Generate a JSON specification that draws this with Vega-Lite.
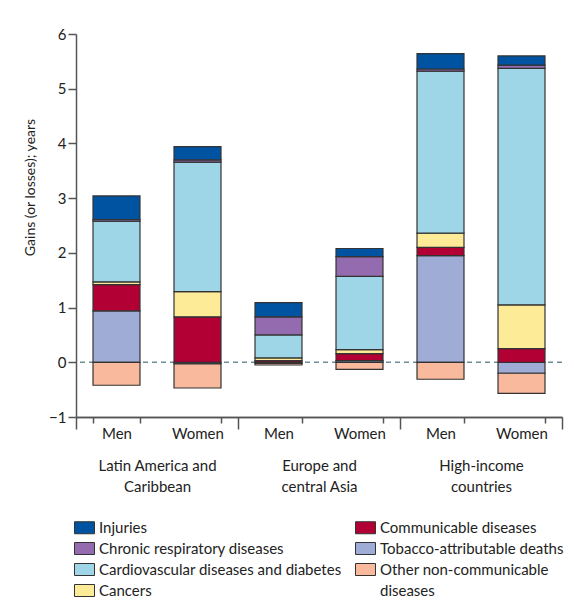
{
  "$schema": "https://vega.github.io/schema/vega-lite/v6.json",
  "width": 486,
  "height": 383,
  "autosize": {"type": "none"},
  "padding": {"left": 76, "top": 34, "right": 12, "bottom": 190},
  "background": "white",
  "config": {
    "font": "Lato",
    "view": {"stroke": null},
    "axis": {"labelFont": "Lato", "titleFont": "Lato", "labelColor": "#222", "titleColor": "#222", "grid": false}
  },
  "datasets": {
    "bars": [
      {"bar": "LAC|Men", "cause": "Tobacco-attributable deaths", "k": 1, "value": 0.94},
      {"bar": "LAC|Men", "cause": "Communicable diseases", "k": 2, "value": 0.48},
      {"bar": "LAC|Men", "cause": "Cancers", "k": 3, "value": 0.05},
      {"bar": "LAC|Men", "cause": "Cardiovascular diseases and diabetes", "k": 4, "value": 1.11},
      {"bar": "LAC|Men", "cause": "Chronic respiratory diseases", "k": 5, "value": 0.03},
      {"bar": "LAC|Men", "cause": "Injuries", "k": 6, "value": 0.43},
      {"bar": "LAC|Men", "cause": "Other non-communicable diseases", "k": 7, "value": -0.42},
      {"bar": "LAC|Women", "cause": "Tobacco-attributable deaths", "k": 1, "value": -0.03},
      {"bar": "LAC|Women", "cause": "Communicable diseases", "k": 2, "value": 0.83},
      {"bar": "LAC|Women", "cause": "Cancers", "k": 3, "value": 0.46},
      {"bar": "LAC|Women", "cause": "Cardiovascular diseases and diabetes", "k": 4, "value": 2.37},
      {"bar": "LAC|Women", "cause": "Chronic respiratory diseases", "k": 5, "value": 0.04},
      {"bar": "LAC|Women", "cause": "Injuries", "k": 6, "value": 0.24},
      {"bar": "LAC|Women", "cause": "Other non-communicable diseases", "k": 7, "value": -0.44},
      {"bar": "ECA|Men", "cause": "Tobacco-attributable deaths", "k": 1, "value": -0.02},
      {"bar": "ECA|Men", "cause": "Communicable diseases", "k": 2, "value": 0.03},
      {"bar": "ECA|Men", "cause": "Cancers", "k": 3, "value": 0.05},
      {"bar": "ECA|Men", "cause": "Cardiovascular diseases and diabetes", "k": 4, "value": 0.42},
      {"bar": "ECA|Men", "cause": "Chronic respiratory diseases", "k": 5, "value": 0.33},
      {"bar": "ECA|Men", "cause": "Injuries", "k": 6, "value": 0.26},
      {"bar": "ECA|Men", "cause": "Other non-communicable diseases", "k": 7, "value": -0.03},
      {"bar": "ECA|Women", "cause": "Tobacco-attributable deaths", "k": 1, "value": 0.03},
      {"bar": "ECA|Women", "cause": "Communicable diseases", "k": 2, "value": 0.13},
      {"bar": "ECA|Women", "cause": "Cancers", "k": 3, "value": 0.07},
      {"bar": "ECA|Women", "cause": "Cardiovascular diseases and diabetes", "k": 4, "value": 1.34},
      {"bar": "ECA|Women", "cause": "Chronic respiratory diseases", "k": 5, "value": 0.36},
      {"bar": "ECA|Women", "cause": "Injuries", "k": 6, "value": 0.15},
      {"bar": "ECA|Women", "cause": "Other non-communicable diseases", "k": 7, "value": -0.13},
      {"bar": "HI|Men", "cause": "Tobacco-attributable deaths", "k": 1, "value": 1.95},
      {"bar": "HI|Men", "cause": "Communicable diseases", "k": 2, "value": 0.15},
      {"bar": "HI|Men", "cause": "Cancers", "k": 3, "value": 0.26},
      {"bar": "HI|Men", "cause": "Cardiovascular diseases and diabetes", "k": 4, "value": 2.96},
      {"bar": "HI|Men", "cause": "Chronic respiratory diseases", "k": 5, "value": 0.04},
      {"bar": "HI|Men", "cause": "Injuries", "k": 6, "value": 0.28},
      {"bar": "HI|Men", "cause": "Other non-communicable diseases", "k": 7, "value": -0.31},
      {"bar": "HI|Women", "cause": "Tobacco-attributable deaths", "k": 1, "value": -0.20},
      {"bar": "HI|Women", "cause": "Communicable diseases", "k": 2, "value": 0.25},
      {"bar": "HI|Women", "cause": "Cancers", "k": 3, "value": 0.80},
      {"bar": "HI|Women", "cause": "Cardiovascular diseases and diabetes", "k": 4, "value": 4.32},
      {"bar": "HI|Women", "cause": "Chronic respiratory diseases", "k": 5, "value": 0.06},
      {"bar": "HI|Women", "cause": "Injuries", "k": 6, "value": 0.17},
      {"bar": "HI|Women", "cause": "Other non-communicable diseases", "k": 7, "value": -0.37}
    ],
    "regions": [
      {"region": "Latin America and|Caribbean"},
      {"region": "Europe and|central Asia"},
      {"region": "High-income|countries"}
    ]
  },
  "resolve": {"scale": {"x": "independent"}, "axis": {"x": "independent"}},
  "layer": [
    {
      "data": {"values": [{"zero": 0}]},
      "mark": {"type": "rule", "stroke": "#6f8c99", "strokeDash": [5, 4], "strokeWidth": 1.5},
      "encoding": {"y": {"field": "zero", "type": "quantitative"}}
    },
    {
      "data": {"name": "regions"},
      "mark": {"type": "bar", "opacity": 0},
      "encoding": {
        "x": {
          "field": "region", "type": "nominal", "sort": null,
          "scale": {"paddingInner": 0, "paddingOuter": 0},
          "axis": {
            "orient": "bottom", "title": null, "labelAngle": 0,
            "labelExpr": "split(datum.label, '|')",
            "tickBand": "extent", "tickSize": 12, "tickColor": "#555", "tickWidth": 1.5,
            "domainColor": "#555", "domainWidth": 1.5,
            "labelPadding": 29, "labelFontSize": 15, "labelLineHeight": 21, "labelBaseline": "top"
          }
        }
      }
    },
    {
      "data": {"name": "bars"},
      "mark": {"type": "bar", "strokeWidth": 1.2},
      "encoding": {
        "x": {
          "field": "bar", "type": "nominal",
          "sort": ["LAC|Men", "LAC|Women", "ECA|Men", "ECA|Women", "HI|Men", "HI|Women"],
          "scale": {"paddingInner": 0.42, "paddingOuter": 0.21},
          "axis": {
            "orient": "bottom", "title": null, "labelAngle": 0,
            "labelExpr": "split(datum.label, '|')[1]",
            "tickBand": "extent", "tickSize": 6, "tickColor": "#555", "tickWidth": 1.5,
            "domainColor": "#555", "domainWidth": 1.5,
            "labelPadding": 3, "labelFontSize": 15, "labelBaseline": "top"
          }
        },
        "y": {
          "field": "value", "type": "quantitative", "stack": "zero",
          "scale": {"domain": [-1, 6], "nice": false, "zero": false},
          "axis": {
            "values": [-1, 0, 1, 2, 3, 4, 5, 6], "format": "d",
            "title": "Gains (or losses); years",
            "titleFontSize": 14, "titleFontWeight": "normal",
            "titleX": -46, "titleY": 153, "titleAngle": -90, "titleAlign": "center", "titleBaseline": "middle",
            "domainColor": "#555", "domainWidth": 1.5, "tickColor": "#555", "tickWidth": 1.5, "tickSize": 8,
            "labelFontSize": 15, "labelPadding": 2
          }
        },
        "fill": {
          "field": "cause", "type": "nominal",
          "scale": {
            "domain": ["Injuries", "Chronic respiratory diseases", "Cardiovascular diseases and diabetes", "Cancers", "Communicable diseases", "Tobacco-attributable deaths", "Other non-communicable diseases", "diseases"],
            "range": ["#0053a0", "#936bae", "#9fd6e7", "#feeb98", "#b30034", "#9facd6", "#f9b99d", "transparent"]
          },
          "legend": {
            "orient": "none", "legendX": -2, "legendY": 483, "columns": 2, "direction": "vertical", "title": null,
            "symbolType": "M-1,-0.6H1V0.6H-1Z", "symbolSize": 400,
            "symbolStrokeWidth": 1, "symbolOpacity": 1,
            "labelFont": "Lato", "labelFontSize": 15, "labelColor": "#222", "labelLimit": 0,
            "labelOffset": 4, "rowPadding": 2, "columnPadding": 11, "padding": 0,
            "labelExpr": "datum.label == 'Other non-communicable diseases' ? 'Other non-communicable' : datum.label"
          }
        },
        "stroke": {
          "field": "cause", "type": "nominal",
          "scale": {
            "domain": ["Injuries", "Chronic respiratory diseases", "Cardiovascular diseases and diabetes", "Cancers", "Communicable diseases", "Tobacco-attributable deaths", "Other non-communicable diseases", "diseases"],
            "range": ["#333333", "#333333", "#333333", "#333333", "#333333", "#333333", "#333333", "transparent"]
          }
        },
        "order": {"field": "k", "type": "quantitative"}
      }
    }
  ]
}
